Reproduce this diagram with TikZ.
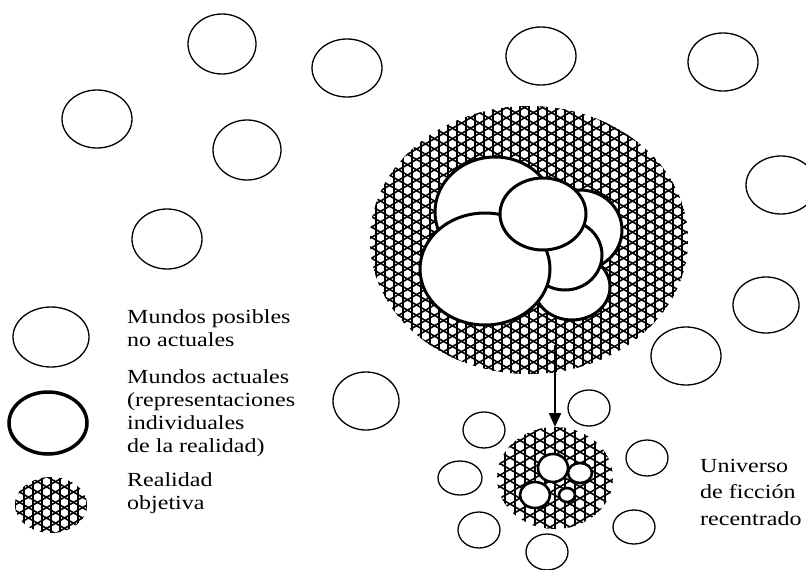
\documentclass[tikz,border=0pt]{standalone}
\usepackage{fontspec}
\setmainfont{Liberation Serif}
\usetikzlibrary{shapes.geometric,arrows.meta}

% star (trihexagonal) mesh of three line families around a centre
\newcommand\starmesh[4]{% #1 = centre, #2 = lines each side, #3 = half length, #4 = spacing
  \foreach \a/\ph in {90/0,30/0,150/0.5}{%
    \begin{scope}[shift={#1}, rotate=\a]
      \foreach \k in {-#2,...,#2}
        \draw[mesh] (-#3,{(\k+\ph)*#4}) -- (#3,{(\k+\ph)*#4});
    \end{scope}}}

\tikzset{
  oval/.style n args={2}{ellipse, inner sep=0pt, outer sep=0pt,
    minimum width=#1pt, minimum height=#2pt},
  possible/.style={draw, line width=1.3pt},
  actual/.style={draw, fill=white, line width=3pt},
  hole/.style={draw, fill=white, line width=2.6pt},
  mesh/.style={line width=1.6pt, black},
  label/.style={anchor=base west, inner sep=0pt, xscale=1.2, transform shape,
    font=\fontsize{20}{24}\selectfont},
  arr/.style={line width=2.4pt, -{Triangle[length=14pt,width=12pt]}}
}

\begin{document}
\begin{tikzpicture}[x=1pt,y=-1pt]
\useasboundingbox (0,0) rectangle (806,570);

% possible, non-actual worlds
\node[oval={68}{60},possible] (p1) at (222,44) {};
\node[oval={70}{58},possible] (p2) at (347,68) {};
\node[oval={70}{58},possible] (p3) at (97,119) {};
\node[oval={68}{60},possible] (p4) at (247,150) {};
\node[oval={70}{60},possible] (p5) at (167,239) {};
\node[oval={70}{58},possible] (p6) at (541,56) {};
\node[oval={70}{58},possible] (p7) at (723,62) {};
\node[oval={70}{58},possible] (p8) at (781,185) {};
\node[oval={66}{56},possible] (p9) at (766,305) {};
\node[oval={70}{58},possible] (p10) at (686,356) {};
\node[oval={66}{58},possible] (p11) at (366,401) {};

% objective reality with the actual worlds
\node[oval={318}{268}] (real) at (529,240) {};
\begin{scope}
  \clip (real.center) ellipse [x radius=159, y radius=134];
  \starmesh{(real.center)}{21}{180}{9}
\end{scope}
\node[oval={120}{110},actual] (a1) at (495,212) {};
\node[oval={84}{80},actual] (a2) at (580,230) {};
\node[oval={76}{66},actual] (a3) at (572,287) {};
\node[oval={74}{70},actual] (a4) at (565,255) {};
\node[oval={130}{112},actual] (a5) at (485,269) {};
\node[oval={86}{72},actual] (a6) at (543,214) {};

% recentred fictional universe
\node[oval={116}{102}] (fic) at (555,478) {};
\begin{scope}
  \clip (fic.center) ellipse [x radius=58, y radius=51];
  \starmesh{(fic.center)}{8}{70}{10}
\end{scope}
\node[oval={30}{28},hole] (h1) at (553,468) {};
\node[oval={24}{20},hole] (h2) at (580,473) {};
\node[oval={30}{26},hole] (h3) at (535,495) {};
\node[oval={16}{14},hole] (h4) at (567,495) {};

\node[oval={42}{36},possible] (s1) at (589,408) {};
\node[oval={42}{36},possible] (s2) at (484,430) {};
\node[oval={44}{34},possible] (s3) at (460,478) {};
\node[oval={42}{36},possible] (s4) at (647,458) {};
\node[oval={42}{36},possible] (s5) at (479,530) {};
\node[oval={42}{36},possible] (s6) at (547,552) {};
\node[oval={42}{34},possible] (s7) at (634,527) {};

\coordinate (shaft) at (555,345);
\draw[arr] (shaft) -- (fic.north);

% legend
\node[oval={76}{60},possible] (k1) at (51,337) {};
\node[oval={78}{62},draw,line width=3.5pt] (k2) at (48,423) {};
\node[oval={72}{56}] (k3) at (51,505) {};
\begin{scope}
  \clip (k3.center) ellipse [x radius=36, y radius=28];
  \starmesh{(k3.center)}{6}{50}{9}
\end{scope}

\node[label] (t1) at (127,323) {Mundos posibles};
\node[label] (t2) at (127,346) {no actuales};
\node[label] (t3) at (127,383) {Mundos actuales};
\node[label] (t4) at (127,406) {(representaciones};
\node[label] (t5) at (127,429) {individuales};
\node[label] (t6) at (127,452) {de la realidad)};
\node[label] (t7) at (127,486) {Realidad};
\node[label] (t8) at (127,509) {objetiva};

\node[label] (u1) at (700,472) {Universo};
\node[label] (u2) at (700,498) {de ficción};
\node[label] (u3) at (700,525) {recentrado};
\end{tikzpicture}
\end{document}
